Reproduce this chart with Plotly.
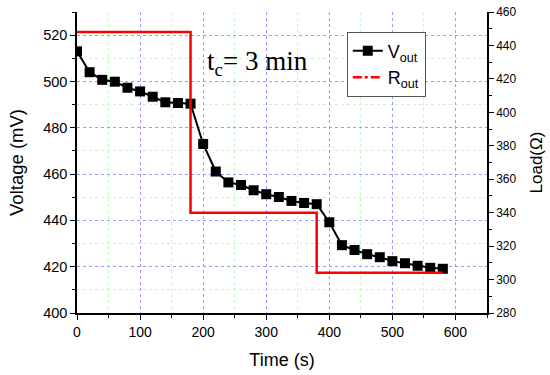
import plotly.graph_objects as go

time_v = [0, 20, 40, 60, 80, 100, 120, 140, 160, 180, 200, 220, 240, 260, 280,
          300, 320, 340, 360, 380, 400, 420, 440, 460, 480, 500, 520, 540, 560, 580]
v_out = [513.0, 504.0, 500.7, 499.9, 497.3, 495.7, 493.4, 491.0, 490.7, 490.4,
         473.0, 461.1, 456.4, 455.3, 453.0, 451.3, 450.1, 448.4, 447.5, 447.0,
         439.2, 429.3, 427.2, 425.4, 424.1, 422.4, 421.5, 420.4, 419.5, 419.1]

time_r = [0, 180, 180, 380, 380, 580]
r_out = [448, 448, 340, 340, 304, 304]

fig = go.Figure()
fig.add_trace(go.Scatter(x=time_v, y=v_out, mode="lines+markers", name="V<sub>out</sub>",
                         line=dict(color="black", width=2),
                         marker=dict(symbol="square", size=10, color="black")))
fig.add_trace(go.Scatter(x=time_r, y=r_out, mode="lines", yaxis="y2", showlegend=False,
                         line=dict(color="#ff0000", width=2.5)))
fig.add_trace(go.Scatter(x=[None], y=[None], mode="lines", yaxis="y2", name="R<sub>out</sub>",
                         line=dict(color="#ff0000", width=2.5, dash="dashdot")))

grid_major = "#9a9aff"
grid_minor = "#c8f5c8"
fig.update_layout(
    width=550, height=375,
    margin=dict(l=77, r=63, t=12, b=62),
    plot_bgcolor="white", paper_bgcolor="white",
    font=dict(family="Liberation Sans, Arial", size=14, color="black"),
    xaxis=dict(range=[0, 650], dtick=100, tick0=0, showline=True, linecolor="black", linewidth=1.5,
               ticks="outside", ticklen=5, tickcolor="black", automargin=False,
               tickfont=dict(size=14),
               showgrid=True, gridcolor=grid_major, griddash="dot", gridwidth=1, zeroline=False,
               minor=dict(dtick=50, ticks="outside", ticklen=3, tickcolor="black",
                          showgrid=True, gridcolor=grid_minor, griddash="dot"),
               title=dict(text="Time (s)", font=dict(size=18))),
    yaxis=dict(range=[400, 530], dtick=20, tick0=400, showline=True, linecolor="black", linewidth=1.5,
               ticks="outside", ticklen=5, tickcolor="black", automargin=False,
               tickfont=dict(size=14.5),
               showgrid=True, gridcolor=grid_major, griddash="dot", gridwidth=1, zeroline=False,
               minor=dict(dtick=10, ticks="outside", ticklen=3, tickcolor="black",
                          showgrid=True, gridcolor=grid_minor, griddash="dot"),
               title=dict(text="Voltage (mV)", font=dict(size=18.5))),
    yaxis2=dict(range=[280, 460], dtick=20, tick0=280, overlaying="y", side="right",
                showline=True, linecolor="black", linewidth=1.5, automargin=False,
                ticks="outside", ticklen=5, tickcolor="black", showgrid=False, zeroline=False,
                minor=dict(dtick=10, ticks="outside", ticklen=3, tickcolor="black", showgrid=False),
                tickfont=dict(size=12),
                title=dict(text="Load(Ω)", font=dict(size=17))),
    legend=dict(x=0.658, y=0.935, xanchor="left", yanchor="top",
                bgcolor="white", bordercolor="#555555", borderwidth=1,
                font=dict(size=18), tracegroupgap=2),
    annotations=[dict(x=203, y=508, xref="x", yref="y", xanchor="left", yanchor="middle",
                      text="t<sub>c</sub>= 3 min", showarrow=False,
                      font=dict(family="Liberation Serif, Times New Roman", size=27))],
)

fig.write_html("out.html", post_script="document.body.style.margin='0';",
               config={"displayModeBar": False})
